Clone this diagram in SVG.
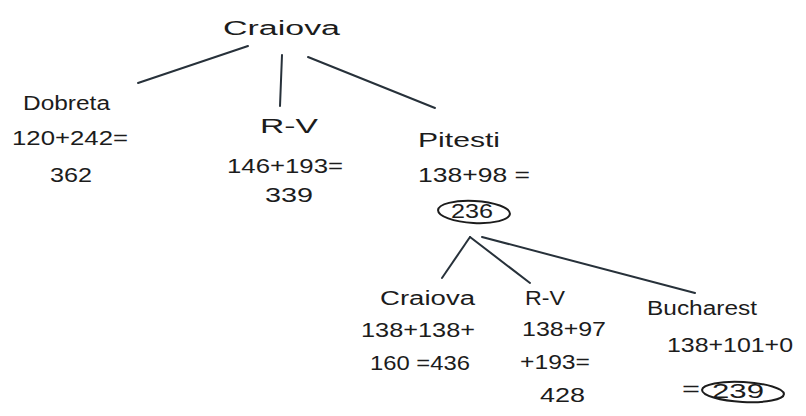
<svg xmlns="http://www.w3.org/2000/svg" width="806" height="416" viewBox="0 0 806 416">
<style>
text{font-family:"Liberation Sans","DejaVu Sans",sans-serif;font-size:20px;fill:#1c1c1c}
.edge{stroke:#27313a;stroke-width:2;fill:none;stroke-linecap:round}
.ring{stroke:#1c1c1c;stroke-width:2;fill:none}
</style>
<rect width="806" height="416" fill="#ffffff"/>
<g id="connectors">
<path class="edge" d="M248,46 L138,83"/>
<path class="edge" d="M282,55 L280,106"/>
<path class="edge" d="M308,57 L435,108"/>
<path class="edge" d="M470,237 L442,278"/>
<path class="edge" d="M470,237 L530,283"/>
<path class="edge" d="M482,237 L695,293"/>
</g>
<g id="craiova-root">
<text x="223" y="35" font-size="24" textLength="117" lengthAdjust="spacingAndGlyphs">Craiova</text>
</g>
<g id="dobreta">
<text x="23" y="110" textLength="87" lengthAdjust="spacingAndGlyphs">Dobreta</text>
<text x="12" y="145" textLength="116" lengthAdjust="spacingAndGlyphs">120+242=</text>
<text x="50" y="182" textLength="42" lengthAdjust="spacingAndGlyphs">362</text>
</g>
<g id="rv">
<text x="260" y="133" textLength="58" lengthAdjust="spacingAndGlyphs">R-V</text>
<text x="227" y="173" textLength="116" lengthAdjust="spacingAndGlyphs">146+193=</text>
<text x="265" y="202" textLength="48" lengthAdjust="spacingAndGlyphs">339</text>
</g>
<g id="pitesti">
<text x="418" y="147" font-size="22" textLength="82" lengthAdjust="spacingAndGlyphs">Pitesti</text>
<text x="418" y="182" textLength="112" lengthAdjust="spacingAndGlyphs">138+98 =</text>
<ellipse class="ring" cx="474" cy="212" rx="36" ry="11" transform="rotate(3 474 212)"/>
<text x="451" y="218" font-size="18" textLength="42" lengthAdjust="spacingAndGlyphs">236</text>
</g>
<g id="craiova-child">
<text x="380" y="305" textLength="95" lengthAdjust="spacingAndGlyphs">Craiova</text>
<text x="361" y="337" textLength="114" lengthAdjust="spacingAndGlyphs">138+138+</text>
<text x="370" y="370" textLength="100" lengthAdjust="spacingAndGlyphs">160 =436</text>
</g>
<g id="rv-child">
<text x="525" y="305" textLength="40" lengthAdjust="spacingAndGlyphs">R-V</text>
<text x="522" y="336" textLength="84" lengthAdjust="spacingAndGlyphs">138+97</text>
<text x="520" y="369" textLength="70" lengthAdjust="spacingAndGlyphs">+193=</text>
<text x="540" y="402" textLength="45" lengthAdjust="spacingAndGlyphs">428</text>
</g>
<g id="bucharest">
<text x="647" y="315" textLength="110" lengthAdjust="spacingAndGlyphs">Bucharest</text>
<text x="667" y="352" textLength="126" lengthAdjust="spacingAndGlyphs">138+101+0</text>
<text x="682" y="396" textLength="18" lengthAdjust="spacingAndGlyphs">=</text>
<ellipse class="ring" cx="743" cy="392" rx="41" ry="10" transform="rotate(3 743 392)"/>
<text x="712" y="398" font-size="18" textLength="52" lengthAdjust="spacingAndGlyphs">239</text>
</g>
</svg>
